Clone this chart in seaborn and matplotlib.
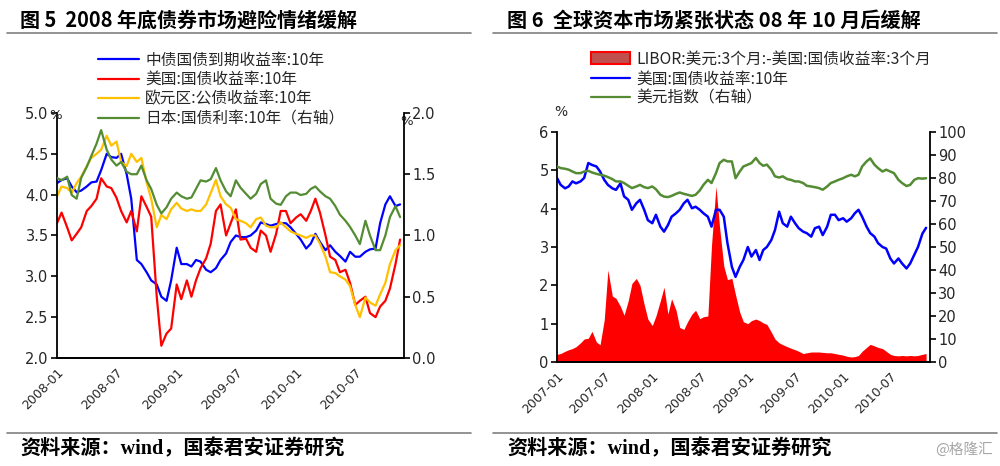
import pandas as pd
import matplotlib
matplotlib.use('Agg')
import matplotlib.pyplot as plt
import matplotlib.dates as mdates
from matplotlib.lines import Line2D
from matplotlib.patches import Patch
import seaborn as sns

# ---- chart 5 data (semi-monthly readings) ----
dates_left = pd.date_range('2008-01-01', periods=70, freq='SMS')
cn_10y = [4.14, 4.18, 4.2, 4.1, 4.03, 4.05, 4.1, 4.15, 4.16, 4.3,
          4.5, 4.46, 4.45, 4.5, 4.25, 3.95, 3.2, 3.15, 3.05, 2.95,
          2.9, 2.75, 2.7, 2.95, 3.35, 3.15, 3.15, 3.12, 3.2, 3.18,
          3.08, 3.05, 3.1, 3.2, 3.28, 3.42, 3.5, 3.48, 3.48, 3.5,
          3.56, 3.66, 3.64, 3.62, 3.64, 3.65, 3.65, 3.6, 3.52, 3.45,
          3.34, 3.4, 3.52, 3.42, 3.32, 3.38, 3.3, 3.25, 3.18, 3.3,
          3.24, 3.24, 3.3, 3.33, 3.34, 3.65, 3.88, 3.98, 3.86, 3.88]
us_10y = [3.65, 3.78, 3.6, 3.44, 3.52, 3.6, 3.8, 3.86, 3.95, 4.2,
          4.1, 4.08, 3.96, 3.8, 3.66, 3.8, 3.55, 3.98, 3.85, 3.73,
          2.75, 2.15, 2.3, 2.36, 2.9, 2.72, 2.95, 2.75, 2.95, 3.1,
          3.22, 3.4, 3.8, 3.88, 3.5, 3.65, 3.82, 3.45, 3.46, 3.35,
          3.3, 3.56, 3.5, 3.3, 3.52, 3.8, 3.8, 3.65, 3.72, 3.76,
          3.68, 3.8, 3.95, 3.78, 3.5, 3.24, 3.2, 3.05, 3.08, 2.92,
          2.65, 2.7, 2.75, 2.55, 2.5, 2.63, 2.7, 2.85, 3.15, 3.45]
eu_10y = [3.98, 4.1, 4.08, 4.02, 4.14, 4.22, 4.35, 4.45, 4.5, 4.55,
          4.72, 4.6, 4.65, 4.4, 4.35, 4.5, 4.4, 4.45, 4.15, 3.95,
          3.6, 3.75, 3.7, 3.82, 3.9, 3.83, 3.8, 3.82, 3.8, 3.8,
          3.88, 4.02, 4.18, 3.98, 3.88, 3.84, 3.7, 3.68, 3.65, 3.6,
          3.7, 3.72, 3.62, 3.6, 3.6, 3.66, 3.6, 3.55, 3.52, 3.5,
          3.47, 3.5, 3.5, 3.4, 3.24, 3.05, 3.04, 3.0, 2.96, 2.88,
          2.65, 2.5, 2.74, 2.68, 2.64, 2.78, 2.92, 3.15, 3.32, 3.38]
jp_10y = [1.47, 1.45, 1.48, 1.33, 1.3, 1.47, 1.56, 1.65, 1.75, 1.86,
          1.7, 1.62, 1.57, 1.6, 1.52, 1.5, 1.5, 1.57, 1.45, 1.38,
          1.25, 1.18, 1.23, 1.3, 1.35, 1.32, 1.3, 1.31, 1.38, 1.45,
          1.44, 1.46, 1.55, 1.45, 1.36, 1.32, 1.45, 1.39, 1.34, 1.3,
          1.34, 1.42, 1.45, 1.3, 1.26, 1.25, 1.32, 1.35, 1.35, 1.33,
          1.34, 1.38, 1.4, 1.36, 1.32, 1.3, 1.24, 1.17, 1.12, 1.07,
          1.0, 0.93, 1.12, 1.0, 0.88, 0.88, 1.0, 1.15, 1.24, 1.15]

# ---- chart 6 data (semi-monthly readings) ----
dates_right = pd.date_range('2007-01-01', periods=94, freq='SMS')
libor_spread = [0.2, 0.22, 0.28, 0.32, 0.35, 0.4, 0.5, 0.6, 0.62, 0.8,
                0.52, 0.45, 1.1, 2.4, 1.72, 1.66, 1.45, 1.22, 1.6, 2.05,
                2.18, 2.0, 1.5, 1.12, 0.95, 1.2, 1.6, 1.95, 1.25, 1.65,
                1.35, 0.9, 0.85, 1.05, 1.25, 1.35, 1.13, 1.18, 1.2, 3.05,
                4.58, 3.5, 2.5, 2.15, 2.18, 1.75, 1.3, 1.05, 1.0, 1.08,
                1.12, 1.08, 1.02, 0.98, 0.78, 0.6, 0.5, 0.45, 0.4, 0.36,
                0.32, 0.28, 0.22, 0.24, 0.26, 0.26, 0.26, 0.25, 0.24, 0.24,
                0.22, 0.2, 0.18, 0.15, 0.13, 0.14, 0.17, 0.28, 0.38, 0.46,
                0.42, 0.38, 0.35, 0.28, 0.2, 0.17, 0.16, 0.17, 0.16, 0.17,
                0.16, 0.17, 0.2, 0.22]
us_10y_b = [4.8, 4.62, 4.53, 4.58, 4.71, 4.66, 4.71, 4.8, 5.19, 5.14,
            5.1, 4.97, 4.75, 4.62, 4.53, 4.49, 4.66, 4.32, 4.23, 3.97,
            4.14, 4.23, 3.97, 3.7, 3.62, 3.84, 3.53, 3.4, 3.57, 3.79,
            3.88, 3.97, 4.14, 4.23, 4.01, 4.05, 3.97, 3.88, 3.79, 3.53,
            3.97, 3.97, 3.79, 3.1, 2.48, 2.22, 2.48, 2.66, 3.0, 2.75,
            2.92, 2.66, 2.92, 3.0, 3.18, 3.44, 3.92, 3.62, 3.53, 3.79,
            3.62, 3.49, 3.4, 3.36, 3.27, 3.49, 3.53, 3.31, 3.53, 3.84,
            3.84, 3.7, 3.75, 3.66, 3.75, 3.88, 3.97, 3.79, 3.53, 3.36,
            3.27, 3.1, 3.0, 2.96, 2.7, 2.57, 2.7, 2.57, 2.44, 2.57,
            2.8, 3.0, 3.35, 3.5]
usd_index = [85, 84.3, 84, 83.6, 82.8, 82.1, 82.1, 82.8, 83.1, 82.4,
             81.8, 81.4, 81, 80.4, 79.5, 78.5, 78.5, 77.8, 76.6, 75.6,
             76.3, 77, 76, 75.6, 76.3, 75.1, 72.7, 71.9, 71.7, 72.2,
             73.1, 73.7, 73.1, 72.7, 72.2, 72.7, 74.6, 77, 79.2, 77.8,
             82.1, 86.5, 87.9, 87.2, 87.2, 79.9, 82.8, 85, 85.8, 86.5,
             88.7, 86.5, 85.3, 85.8, 83.6, 80.7, 80.2, 80.7, 79.5, 79.2,
             78.5, 78.5, 77.8, 76.6, 76.3, 76, 75.6, 74.9, 76.3, 77.8,
             78.5, 79.2, 79.9, 80.7, 81.4, 80.7, 81.4, 85, 87.2, 88.5,
             85.8, 84.3, 82.8, 83.6, 82.8, 82.1, 79.2, 77.8, 76.5, 77,
             79.2, 79.9, 79.7, 79.9]

labels_left = ['中债国债到期收益率:10年', '美国:国债收益率:10年',
               '欧元区:公债收益率:10年', '日本:国债利率:10年（右轴）']
labels_right = ['LIBOR:美元:3个月:-美国:国债收益率:3个月',
                '美国:国债收益率:10年', '美元指数（右轴）']

sns.set_style('white')
plt.rcParams['font.family'] = ['Noto Sans CJK SC', 'DejaVu Sans']
plt.rcParams['axes.unicode_minus'] = False

BLUE, RED, ORANGE, GREEN = '#0000ff', '#ff0000', '#ffc000', '#548c34'
TXT = '#262626'

fig = plt.figure(figsize=(10, 4.66), dpi=100)


def style_axes(ax, twin):
    for a in (ax, twin):
        a.spines['top'].set_visible(False)
        for s in ('left', 'right', 'bottom'):
            a.spines[s].set_color('black')
            a.spines[s].set_linewidth(1.3)
        a.tick_params(direction='out', length=4, width=1.2, color='black',
                      labelsize=10.5, labelcolor=TXT, pad=2)
        a.grid(False)
        a.set_xlabel('')
        a.set_ylabel('')
        for lab in a.get_yticklabels():
            lab.set_family('DejaVu Sans')
    ax.spines['right'].set_visible(False)
    twin.spines['left'].set_visible(False)
    ax.xaxis.set_major_locator(mdates.MonthLocator(bymonth=[1, 7]))
    ax.xaxis.set_major_formatter(mdates.DateFormatter('%Y-%m'))
    for lab in ax.get_xticklabels():
        lab.set_rotation(45)
        lab.set_ha('right')
        lab.set_rotation_mode('anchor')
        lab.set_fontsize(9)
        lab.set_family('DejaVu Sans')


# ---------- chart 5 ----------
ax1 = fig.add_axes([0.057, 0.2318, 0.347, 0.5258])
sns.lineplot(x=dates_left, y=cn_10y, ax=ax1, color=BLUE, linewidth=1.6)
sns.lineplot(x=dates_left, y=us_10y, ax=ax1, color=RED, linewidth=1.6)
sns.lineplot(x=dates_left, y=eu_10y, ax=ax1, color=ORANGE, linewidth=1.6)
ax1b = ax1.twinx()
sns.lineplot(x=dates_left, y=jp_10y, ax=ax1b, color=GREEN, linewidth=1.6)
ax1.set_ylim(2.0, 5.0)
ax1.set_yticks([2.0, 2.5, 3.0, 3.5, 4.0, 4.5, 5.0])
ax1.set_yticklabels(['2.0', '2.5', '3.0', '3.5', '4.0', '4.5', '5.0'])
ax1b.set_ylim(0, 2.0)
ax1b.set_yticks([0, 0.5, 1.0, 1.5, 2.0])
ax1b.set_yticklabels(['0.0', '0.5', '1.0', '1.5', '2.0'])
ax1.set_xlim(pd.Timestamp('2008-01-01'), pd.Timestamp('2010-11-27'))
style_axes(ax1, ax1b)
ax1.text(-0.004, 0.99, '%', transform=ax1.transAxes, ha='center', va='center',
         fontsize=9.5, color=TXT, family='DejaVu Sans')
ax1.text(1.006, 0.967, '%', transform=ax1.transAxes, ha='center', va='center',
         fontsize=9.5, color=TXT, family='DejaVu Sans')

h_left = [Line2D([], [], color=c, lw=1.6) for c in (BLUE, RED, ORANGE, GREEN)]
fig.legend(h_left, labels_left, loc='upper left', bbox_to_anchor=(0.098, 0.889),
           frameon=False, fontsize=11.3, handlelength=2.6, handletextpad=0.4,
           labelspacing=0.16, borderpad=0, borderaxespad=0)

# ---------- chart 6 ----------
ax2 = fig.add_axes([0.557, 0.2232, 0.373, 0.4936])
ax2.fill_between(dates_right, 0, libor_spread, color=RED, linewidth=0)
sns.lineplot(x=dates_right, y=us_10y_b, ax=ax2, color=BLUE, linewidth=1.8)
ax2b = ax2.twinx()
sns.lineplot(x=dates_right, y=usd_index, ax=ax2b, color=GREEN, linewidth=1.8)
ax2.set_ylim(0, 6)
ax2.set_yticks(range(0, 7))
ax2b.set_ylim(0, 100)
ax2b.set_yticks(range(0, 101, 10))
ax2.set_xlim(pd.Timestamp('2007-01-01'), pd.Timestamp('2010-11-30'))
style_axes(ax2, ax2b)
ax2.text(0.011, 1.087, '%', transform=ax2.transAxes, ha='center', va='center',
         fontsize=10, color=TXT, family='DejaVu Sans')

h_right = [Patch(facecolor='#c0504d', edgecolor=RED, linewidth=1.5),
           Line2D([], [], color=BLUE, lw=1.6), Line2D([], [], color=GREEN, lw=1.6)]
fig.legend(h_right, labels_right, loc='upper left', bbox_to_anchor=(0.591, 0.891),
           frameon=False, fontsize=11.3, handlelength=2.5, handleheight=0.8,
           handletextpad=0.4, labelspacing=0.16, borderpad=0, borderaxespad=0)

# ---------- titles, rules, footers ----------
fig.text(0.020, 0.957, '图 5  2008 年底债券市场避险情绪缓解', fontsize=14.4,
         fontweight='bold', ha='left', va='center', color='black')
fig.text(0.507, 0.957, '图 6  全球资本市场紧张状态 08 年 10 月后缓解', fontsize=14.5,
         fontweight='bold', ha='left', va='center', color='black')
for x0, x1 in ((0.007, 0.471), (0.493, 0.997)):
    for y in (0.929, 0.071):
        fig.add_artist(Line2D([x0, x1], [y, y], transform=fig.transFigure,
                              color='#808080', lw=1.2))
for x in (0.020, 0.507):
    fig.text(x, 0.036, '资料来源：wind，国泰君安证券研究', fontsize=14.5,
             fontweight='bold', ha='left', va='center', color='black',
             family=['Liberation Serif', 'Noto Sans CJK SC'])
fig.text(0.993, 0.036, '@格隆汇', fontsize=10.5, ha='right', va='center', color='#a6a6a6')

fig.savefig('out.png', dpi=100)
